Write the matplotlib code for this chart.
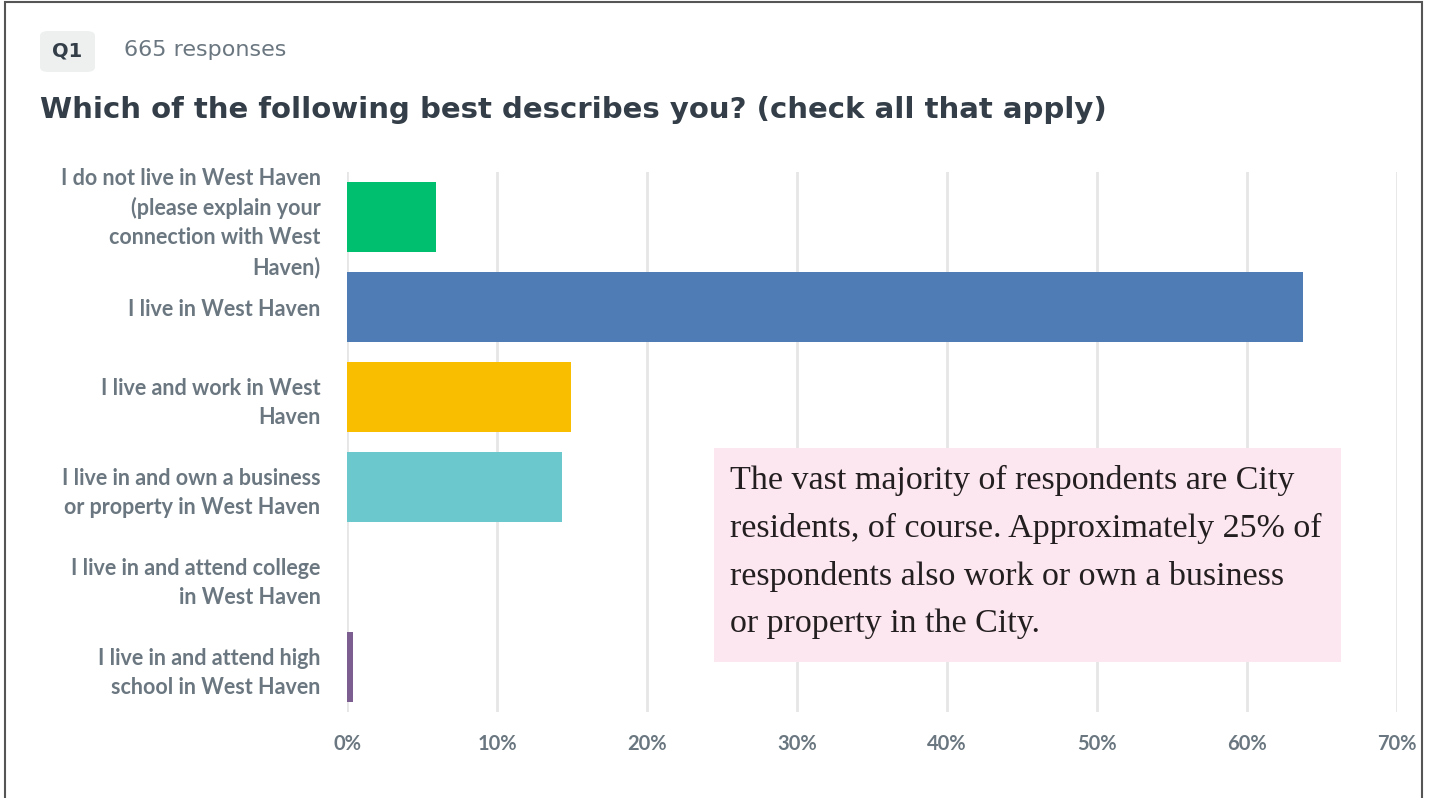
import matplotlib.pyplot as plt
from matplotlib.patches import Rectangle, FancyBboxPatch

categories = [
    "I do not live in West Haven\n(please explain your\nconnection with West\nHaven)",
    "I live in West Haven",
    "I live and work in West\nHaven",
    "I live in and own a business\nor property in West Haven",
    "I live in and attend college\nin West Haven",
    "I live in and attend high\nschool in West Haven",
]
percent = [5.9, 63.7, 14.9, 14.3, 0.0, 0.4]
bar_colors = ["#00bf6f", "#507cb6", "#f9be00", "#6bc8cd", "#ff8b4f", "#7d5e91"]
ticks = [0, 10, 20, 30, 40, 50, 60, 70]
note = ("The vast majority of respondents are City\n"
        "residents, of course. Approximately 25% of\n"
        "respondents also work or own a business\n"
        "or property in the City.")

W, H = 1429, 798
fig = plt.figure(figsize=(W / 100, H / 100), dpi=100)
fig.patch.set_facecolor("white")

# outer frame
fig.patches.append(Rectangle((5 / W, -0.01), 1417 / W, 1.0 - 2 / H + 0.01,
                             transform=fig.transFigure, fill=False,
                             edgecolor="#555555", linewidth=1.5))

# header
fig.patches.append(FancyBboxPatch((40 / W, 1 - 72 / H), 55 / W, 41 / H,
                                  boxstyle="round,pad=0,rounding_size=0.006",
                                  transform=fig.transFigure,
                                  facecolor="#eef0f0", edgecolor="none"))
fig.text(67 / W, 1 - 51 / H, "Q1", ha="center", va="center", fontsize=14,
         fontweight="bold", color="#333e48")
fig.text(124 / W, 1 - 50 / H, "665 responses", ha="left", va="center",
         fontsize=16, color="#6b7780")
fig.text(40 / W, 1 - 110 / H,
         "Which of the following best describes you? (check all that apply)",
         ha="left", va="center", fontsize=21, fontweight="bold",
         color="#333e48")

ax = fig.add_axes([347 / W, 1 - 712 / H, 1050 / W, 540 / H])
y = list(range(len(categories)))
ax.barh(y, percent, height=0.77, color=bar_colors, zorder=3)
ax.set_xlim(0, 70)
ax.set_ylim(len(categories) - 0.5, -0.5)
ax.set_xticks(ticks)
ax.set_xticklabels([f"{t}%" for t in ticks], fontsize=14.5, color="#6b7780",
                   fontweight="bold", family="Lato")
ax.set_yticks(y)
ax.set_yticklabels(categories, fontsize=15.5, color="#6b7780",
                   fontweight="bold", family="Lato", linespacing=1.47)
ax.tick_params(axis="both", length=0)
ax.tick_params(axis="x", pad=16)
ax.tick_params(axis="y", pad=19)
ax.grid(axis="x", color="#e6e6e6", linewidth=2, zorder=0)
for s in ax.spines.values():
    s.set_visible(False)

# annotation box
fig.patches.append(Rectangle((714 / W, 1 - 662 / H), 627 / W, 214 / H,
                             transform=fig.transFigure, facecolor="#fce6ef",
                             edgecolor="none", zorder=5))
fig.text(730 / W, 1 - 552 / H, note, ha="left", va="center", fontsize=24.5,
         family="Liberation Serif", color="#231f20", linespacing=1.70,
         zorder=6)

fig.savefig("out.png", dpi=100)
